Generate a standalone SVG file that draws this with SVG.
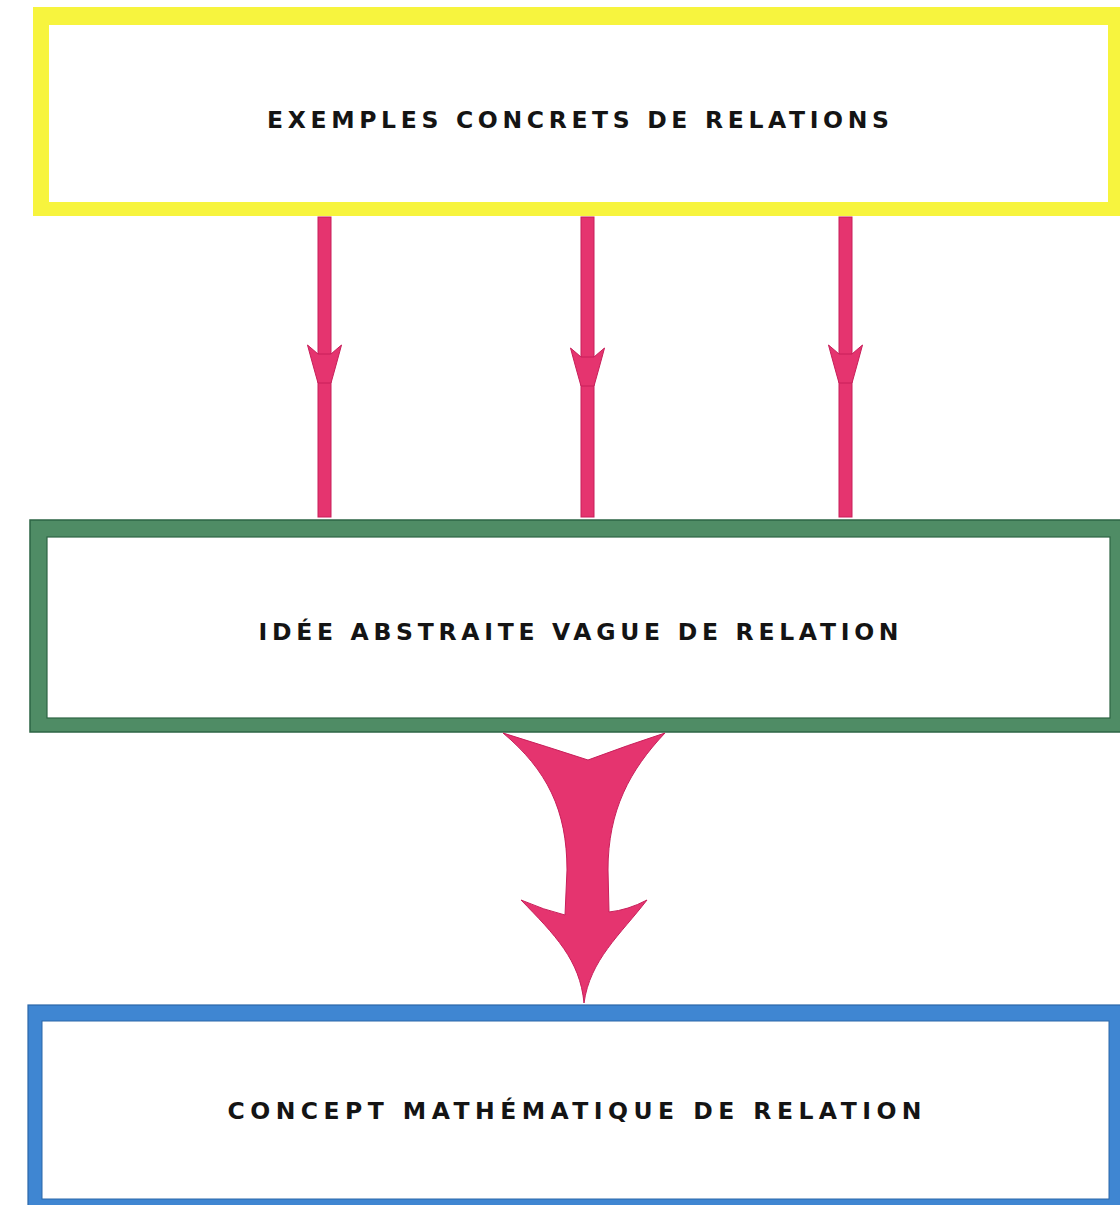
<svg xmlns="http://www.w3.org/2000/svg" width="1120" height="1205" viewBox="0 0 1120 1205">
  <defs>
    <style>
      .label { font-family: "DejaVu Sans", "Liberation Sans", sans-serif; font-weight: bold; font-size: 23.5px; fill: #141414; text-anchor: middle; }
      .inner { fill: #ffffff; }
      .pink { fill: #e5346f; stroke: #c81f5a; stroke-width: 1; }
    </style>
    <!-- small barbed arrowhead, origin at the barb tips on the shaft axis -->
    <path id="head" class="pink" d="M -17,0 Q -11,5 -6.5,9 L 6.5,9 Q 11,5 17,0 Q 13,15 6.5,38 L -6.5,38 Q -13,15 -17,0 Z"/>
  </defs>

  <rect width="1120" height="1205" fill="#ffffff"/>

  <!-- top box -->
  <g id="node-exemples">
    <rect x="33" y="7" width="1087" height="209" fill="#f7f43e"/>
    <rect class="inner" x="49" y="25" width="1059" height="177"/>
    <text class="label" x="578" y="127.5" textLength="622" lengthAdjust="spacing">EXEMPLES CONCRETS DE RELATIONS</text>
  </g>

  <!-- middle box -->
  <g id="node-idee">
    <rect x="30" y="520" width="1095" height="212" fill="#4f8c65" stroke="#2d6444" stroke-width="1.5"/>
    <rect class="inner" x="47" y="537" width="1063" height="181" stroke="#2d6444" stroke-width="1.2"/>
    <text class="label" x="578.5" y="639.5" textLength="640" lengthAdjust="spacing">IDÉE ABSTRAITE VAGUE DE RELATION</text>
  </g>

  <!-- bottom box -->
  <g id="node-concept">
    <rect x="28" y="1005" width="1097" height="205" fill="#3f86d2" stroke="#2b67a8" stroke-width="1.2"/>
    <rect class="inner" x="42" y="1021" width="1067" height="178" stroke="#2b67a8" stroke-width="1"/>
    <text class="label" x="574.5" y="1118.5" textLength="694" lengthAdjust="spacing">CONCEPT MATHÉMATIQUE DE RELATION</text>
  </g>

  <!-- connectors -->
  <g id="connectors">
    <rect class="pink" x="318" y="217" width="13" height="300"/>
    <use href="#head" x="324.5" y="345"/>
    <rect class="pink" x="581" y="217" width="13" height="300"/>
    <use href="#head" x="587.5" y="348"/>
    <rect class="pink" x="839" y="217" width="13" height="300"/>
    <use href="#head" x="845.5" y="345"/>

    <path class="pink" d="M 503,733 Q 548,747 588,760 Q 628,745 665,733 C 630,770 608,810 608,870 L 609,912 Q 628,910 647,900 C 620,935 590,960 584,1003 C 580,960 555,935 521,900 Q 544,910 565,915 L 567,870 C 567,810 547,770 503,733 Z"/>
  </g>
</svg>
